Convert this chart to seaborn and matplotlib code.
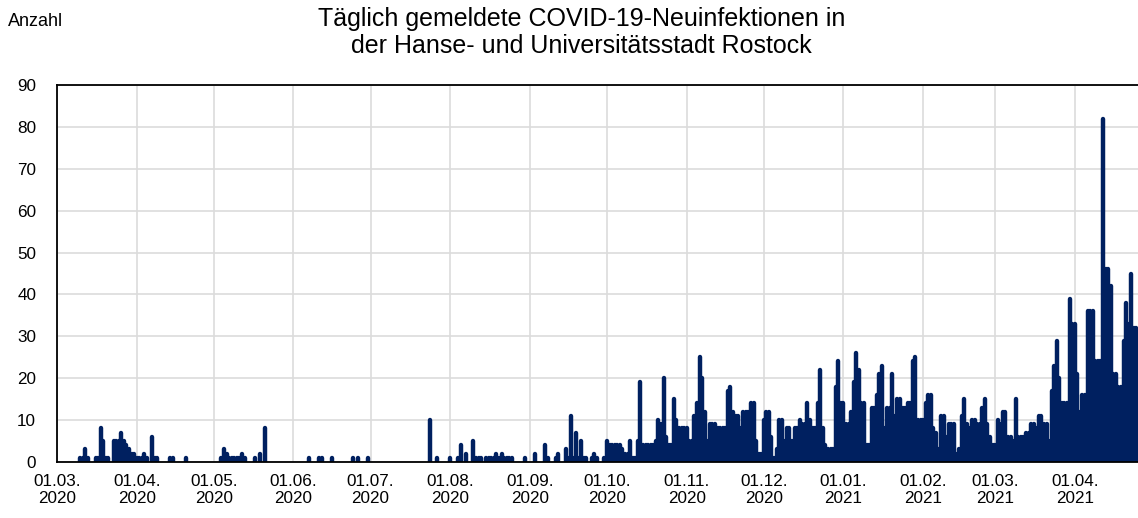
import pandas as pd
import matplotlib
matplotlib.use("Agg")
import matplotlib.pyplot as plt
import seaborn as sns

# Tägliche Neuinfektionen, ab 01.03.2020 (ein Wert pro Tag)
start = "2020-03-01"
mar20 = [0, 0, 0, 0, 0, 0, 0, 0, 0, 1, 1, 3, 1, 0, 0, 1, 1, 8, 5, 1, 1, 0, 5, 5, 5, 7, 5, 4, 3, 2, 2]
apr20 = [1, 1, 1, 2, 1, 0, 6, 1, 1, 0, 0, 0, 0, 1, 1, 0, 0, 0, 0, 1, 0, 0, 0, 0, 0, 0, 0, 0, 0, 0]
may20 = [0, 0, 0, 1, 3, 2, 1, 1, 1, 1, 1, 2, 1, 0, 0, 0, 1, 0, 2, 0, 8, 0, 0, 0, 0, 0, 0, 0, 0, 0, 0]
jun20 = [0, 0, 0, 0, 0, 0, 1, 0, 0, 0, 1, 1, 0, 0, 0, 1, 0, 0, 0, 0, 0, 0, 0, 1, 0, 1, 0, 0, 0, 1]
jul20 = [0, 0, 0, 0, 0, 0, 0, 0, 0, 0, 0, 0, 0, 0, 0, 0, 0, 0, 0, 0, 0, 0, 0, 10, 0, 0, 1, 0, 0, 0, 0]
aug20 = [1, 0, 0, 1, 4, 0, 2, 0, 0, 5, 1, 1, 1, 0, 1, 1, 1, 1, 2, 1, 2, 1, 1, 1, 1, 0, 0, 0, 0, 1, 0]
sep20 = [0, 0, 2, 0, 0, 0, 4, 1, 0, 0, 1, 2, 0, 0, 3, 1, 11, 1, 7, 1, 5, 1, 1, 0, 1, 2, 1, 0, 0, 1]
oct20 = [5, 4, 4, 4, 4, 4, 3, 2, 2, 5, 1, 1, 5, 19, 4, 4, 4, 4, 4, 5, 10, 9, 20, 6, 4, 4, 15, 10, 8, 8, 8]
nov20 = [8, 5, 5, 11, 14, 25, 20, 12, 5, 9, 9, 9, 8, 8, 8, 8, 17, 18, 12, 11, 11, 8, 12, 12, 12, 14, 14, 5, 2, 2]
dec20 = [10, 12, 12, 6, 1, 3, 10, 10, 5, 8, 8, 5, 8, 8, 10, 9, 9, 14, 10, 8, 8, 14, 22, 8, 4, 3, 3, 3, 18, 24, 14]
jan21 = [14, 9, 9, 12, 19, 26, 22, 14, 14, 4, 4, 13, 13, 16, 21, 23, 8, 13, 13, 21, 11, 15, 15, 13, 13, 14, 14, 24, 25, 10, 10]
feb21 = [10, 14, 16, 16, 8, 7, 3, 11, 11, 6, 9, 9, 9, 2, 3, 11, 15, 9, 8, 10, 10, 9, 9, 13, 15, 9, 6, 4]
mar21 = [4, 10, 9, 12, 12, 6, 6, 5, 15, 6, 6, 6, 7, 7, 9, 9, 8, 11, 11, 9, 9, 5, 17, 23, 29, 20, 14, 14, 14, 39, 33]
apr21 = [33, 21, 12, 16, 16, 36, 36, 36, 24, 24, 24, 82, 46, 46, 42, 21, 21, 18, 18, 29, 38, 33, 45, 32, 32]

y_ticks = list(range(0, 91, 10))
title = "Täglich gemeldete COVID-19-Neuinfektionen in\nder Hanse- und Universitätsstadt Rostock"

values = mar20 + apr20 + may20 + jun20 + jul20 + aug20 + sep20 + oct20 + nov20 + dec20 + jan21 + feb21 + mar21 + apr21
df = pd.DataFrame({"datum": pd.date_range(start, periods=len(values), freq="D"), "faelle": values})
df = df[df["faelle"] > 0].reset_index(drop=True)
df["tag"] = df.index

# jeder Balken als Linie von 0 bis zum Wert
bars = pd.concat([df.assign(y=0), df.assign(y=df["faelle"])], ignore_index=True)

sns.set_theme(style="white")
plt.rcParams["font.family"] = ["Liberation Sans", "DejaVu Sans"]
plt.rcParams["text.color"] = "black"
plt.rcParams["xtick.color"] = "black"
plt.rcParams["ytick.color"] = "black"

fig = plt.figure(figsize=(11.38, 5.18), dpi=100)
ax = fig.add_axes([57 / 1138, 56 / 518, 1081 / 1138, 377 / 518])

sns.lineplot(data=bars, x="datum", y="y", units="tag", estimator=None, sort=False,
             color="#002060", linewidth=3.2, solid_capstyle="round", legend=False, ax=ax)

t0 = pd.Timestamp(start)
ax.set_xlim(t0, t0 + pd.Timedelta(days=420.6))
ax.set_ylim(0, 90)
ax.set_yticks(y_ticks)

months = pd.date_range("2020-03-01", "2021-04-01", freq="MS")
ax.set_xticks(months)
ax.set_xticklabels([m.strftime("%d.%m.\n%Y") for m in months], linespacing=1.1)

ax.grid(True, color="#dcdcdc", linewidth=1.2)
ax.set_axisbelow(True)
ax.tick_params(axis="x", direction="inout", length=8, width=1.3, color="black", pad=5,
               labelsize=12.3, labelcolor="black")
ax.tick_params(axis="y", length=0, pad=15, labelsize=12.3, labelcolor="black")
for side in ["left", "bottom", "top"]:
    ax.spines[side].set_color("black")
    ax.spines[side].set_linewidth(1.3)
ax.spines["right"].set_visible(False)
ax.set_xlabel("")
ax.set_ylabel("")

fig.text(0.511, 0.938, title, ha="center", va="center", fontsize=18, linespacing=1.15, color="black")
fig.text(8 / 1138, 1 - 22 / 518, "Anzahl", ha="left", va="center", fontsize=13, color="black")

plt.savefig("out.png", dpi=100)
plt.close()
